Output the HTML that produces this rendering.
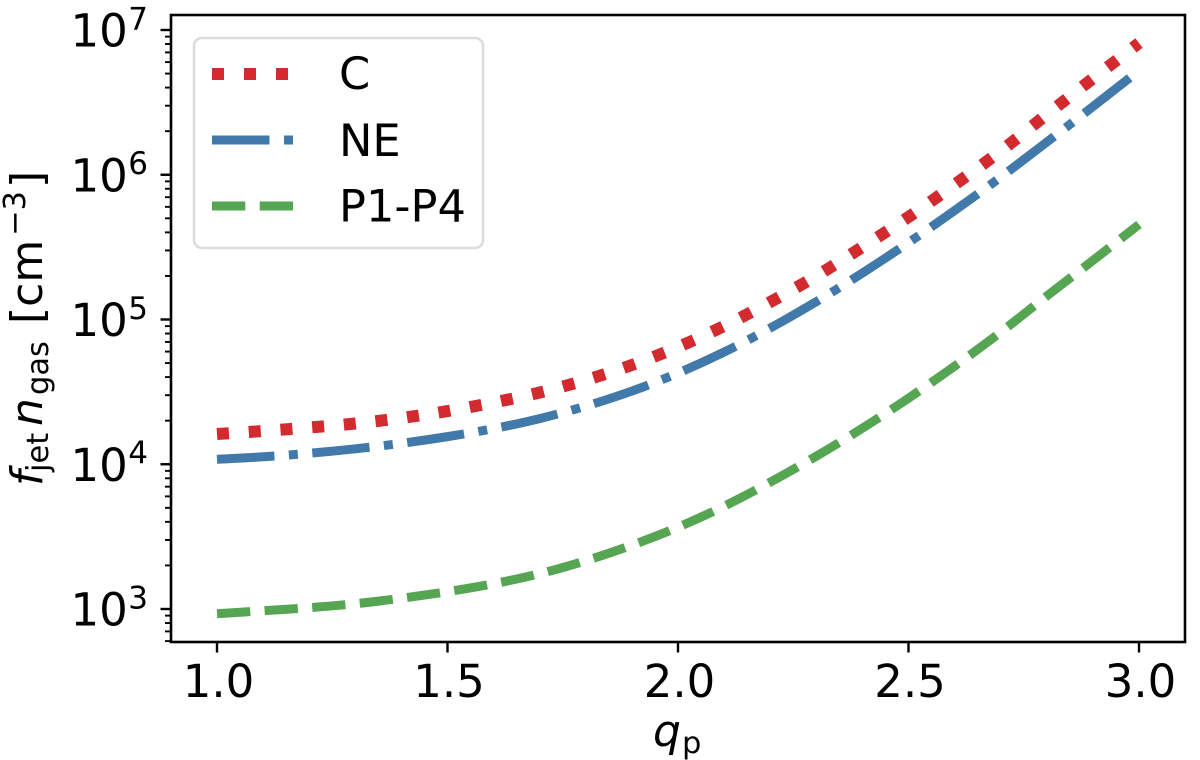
<!DOCTYPE html>
<html>
<head>
<meta charset="utf-8">
<style>
html,body{margin:0;padding:0;background:#fff;width:1200px;height:760px;overflow:hidden}
svg{display:block}
text{font-family:"DejaVu Sans","Liberation Sans",sans-serif;fill:#000}
</style>
</head>
<body>
<svg id="chart" xmlns="http://www.w3.org/2000/svg" width="1200" height="760" viewBox="0 0 1200 760">
  <g id="marks"></g>
  <g id="ticks"></g>
  <rect x="171" y="15" width="1014" height="627" fill="none" stroke="#000" stroke-width="2.6"/>
  <g id="tick-labels"></g>

  <text y="746" font-size="44"><tspan x="653" font-style="italic">q</tspan><tspan x="682" y="753" font-size="30.5">p</tspan></text>
  <text transform="translate(42 486) rotate(-90)" font-size="44"><tspan x="0" y="0" font-style="italic">f</tspan><tspan x="14" y="6" font-size="30.5">jet</tspan><tspan x="60" y="0" font-style="italic">n</tspan><tspan x="91" y="6" font-size="30.5">gas</tspan><tspan x="162" y="0">[cm</tspan><tspan x="250" y="-17" font-size="30.5">−3</tspan><tspan x="298" y="0">]</tspan></text>

  <g>
    <rect x="194" y="38" width="289" height="210" rx="8" ry="8" fill="#fff" fill-opacity="0.8" stroke="#dcdcdc" stroke-width="2.6"/>
    <line x1="212" y1="74" x2="293" y2="74" stroke="#d22a2e" stroke-width="12" stroke-dasharray="12 20"/>
    <line x1="212" y1="140" x2="293" y2="140" stroke="#4079aa" stroke-width="9" stroke-dasharray="57.5 14.5 9 14.5"/>
    <line x1="212" y1="206" x2="293" y2="206" stroke="#55a553" stroke-width="9" stroke-dasharray="33.3 14.4"/>
    <text x="339" y="89" font-size="44.7">C</text>
    <text x="339" y="156" font-size="44.7">NE</text>
    <text x="339" y="221.7" font-size="44.7">P1-P4</text>
  </g>
</svg>
<script>
const qValues = [1.0,1.1,1.2,1.3,1.4,1.5,1.6,1.7,1.8,1.9,2.0,2.1,2.2,2.3,2.4,2.5,2.6,2.7,2.8,2.9,3.0];
const seriesC = [16180,16970,17940,19120,20870,23300,26700,31310,38200,48500,64570,90190,132100,199800,316900,510700,855000,1459000,2608000,4623000,8132000];
const seriesNE = [10820,11260,11900,12780,13950,15520,17630,20680,25220,32030,42640,59550,87230,132900,209300,339800,565300,963200,1681000,2957000,5241000];
const seriesP = [928,973,1021,1088,1187,1317,1495,1753,2156,2759,3674,5131,7516,11366,17750,28600,47570,81700,145300,255700,453300];
const xTickValues = [1.0,1.5,2.0,2.5,3.0];
const xTickLabels = ['1.0','1.5','2.0','2.5','3.0'];
const yTickExponents = [3,4,5,6,7];

const NS = 'http://www.w3.org/2000/svg';
const PLOT_LEFT = 171, PLOT_TOP = 15, PLOT_BOTTOM = 642;
function xScale(q){ return 217 + 461 * (q - 1); }
function yScale(v){ return 609 - 144.75 * (Math.log10(v) - 3); }

const marks = document.getElementById('marks');
const ticks = document.getElementById('ticks');
const labels = document.getElementById('tick-labels');

function smoothPath(values){
  const pts = values.map(function(v, i){ return [xScale(qValues[i]), yScale(v)]; });
  let d = 'M' + pts[0][0].toFixed(2) + ' ' + pts[0][1].toFixed(2);
  for (let i = 0; i < pts.length - 1; i++) {
    const p0 = pts[Math.max(i - 1, 0)];
    const p1 = pts[i];
    const p2 = pts[i + 1];
    const p3 = pts[Math.min(i + 2, pts.length - 1)];
    const c1x = p1[0] + (p2[0] - p0[0]) / 6;
    const c1y = p1[1] + (p2[1] - p0[1]) / 6;
    const c2x = p2[0] - (p3[0] - p1[0]) / 6;
    const c2y = p2[1] - (p3[1] - p1[1]) / 6;
    d += 'C' + c1x.toFixed(2) + ' ' + c1y.toFixed(2) + ' ' + c2x.toFixed(2) + ' ' + c2y.toFixed(2) + ' ' + p2[0].toFixed(2) + ' ' + p2[1].toFixed(2);
  }
  return d;
}

function drawSeries(values, name, color, width, dash){
  const el = document.createElementNS(NS, 'path');
  
  
  el.setAttribute('d', smoothPath(values));
  el.setAttribute('fill', 'none');
  el.setAttribute('stroke', color);
  el.setAttribute('stroke-width', width);
  el.setAttribute('stroke-dasharray', dash);
  marks.appendChild(el);
}
drawSeries(seriesP, 'series-p1-p4', '#55a553', 9, '33.3 14.4');
drawSeries(seriesNE, 'series-ne', '#4079aa', 9, '57.5 14.5 9 14.5');
drawSeries(seriesC, 'series-c', '#d22a2e', 12, '12 19.8');

function addTick(x1, y1, x2, y2, name){
  const t = document.createElementNS(NS, 'line');
  
  
  t.setAttribute('x1', x1);
  t.setAttribute('y1', y1);
  t.setAttribute('x2', x2);
  t.setAttribute('y2', y2);
  t.setAttribute('stroke', '#000');
  t.setAttribute('stroke-width', name.indexOf('minor') >= 0 ? 1.9 : 2.4);
  ticks.appendChild(t);
}

xTickValues.forEach(function(q, i){
  const px = xScale(q);
  addTick(px, PLOT_BOTTOM, px, PLOT_BOTTOM + 10.5, 'x-tick');
  const lab = document.createElementNS(NS, 'text');
  
  
  lab.setAttribute('x', px + 1.5);
  lab.setAttribute('y', 697);
  lab.setAttribute('font-size', '45');
  lab.setAttribute('text-anchor', 'middle');
  lab.textContent = xTickLabels[i];
  labels.appendChild(lab);
});

yTickExponents.forEach(function(e){
  const py = yScale(Math.pow(10, e));
  addTick(PLOT_LEFT - 10.5, py, PLOT_LEFT, py, 'y-tick');
  const lab = document.createElementNS(NS, 'text');
  
  
  lab.setAttribute('x', 70.5);
  lab.setAttribute('y', py + 16.7);
  lab.setAttribute('font-size', '45');
  lab.textContent = '10';
  const sup = document.createElementNS(NS, 'tspan');
  sup.setAttribute('font-size', '31');
  sup.setAttribute('dy', '-17.4');
  sup.setAttribute('dx', '0.5');
  sup.textContent = String(e);
  lab.appendChild(sup);
  labels.appendChild(lab);
});

for (let e = 2; e <= 7; e++) {
  for (let m = 2; m <= 9; m++) {
    const py = yScale(m * Math.pow(10, e));
    if (py > PLOT_TOP && py <= PLOT_BOTTOM) {
      addTick(PLOT_LEFT - 6, py, PLOT_LEFT, py, 'y-minor-tick');
    }
  }
}
</script>
</body>
</html>
